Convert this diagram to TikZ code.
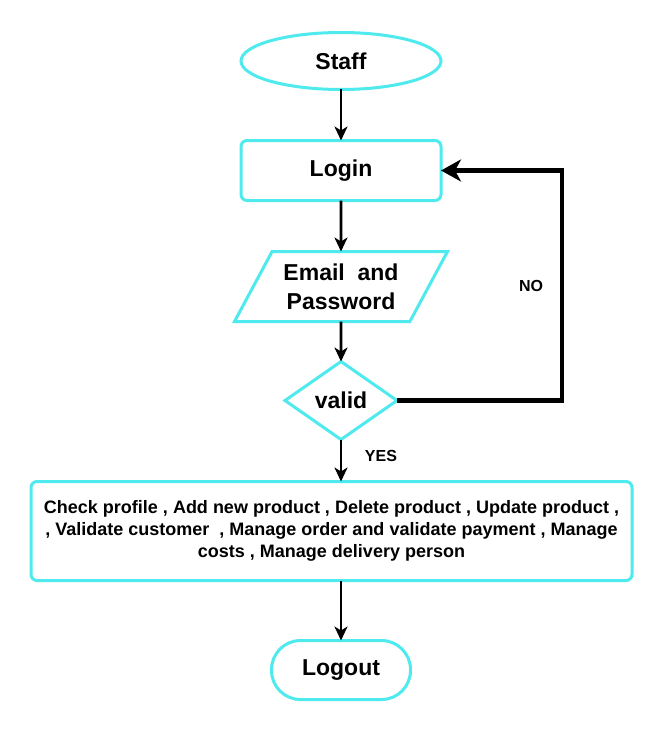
\documentclass[tikz,border=0pt]{standalone}
\usepackage{fontspec}
\setmainfont{Liberation Sans}
\usepackage{tikz}
\usetikzlibrary{arrows.meta,positioning,shapes.geometric}
\definecolor{aqua}{HTML}{4FEAEE}

\begin{document}
\begin{tikzpicture}[every node/.style={font=\bfseries\fontsize{23}{29}\selectfont},stepbase/.style={draw=aqua,line width=3pt,outer sep=0pt,align=center,fill=white},startend/.style={stepbase,ellipse,minimum width=200pt,minimum height=57pt},proc/.style={stepbase,rectangle,rounded corners=6pt,minimum width=200pt,minimum height=60pt},io/.style={stepbase,trapezium,trapezium left angle=53,trapezium right angle=127,trapezium stretches body,minimum width=213pt,minimum height=70pt,inner xsep=0pt,inner ysep=2pt},test/.style={stepbase,diamond,minimum width=112pt,minimum height=78pt,inner sep=0pt},term/.style={stepbase,rectangle,rounded corners=29pt,minimum width=139pt,minimum height=59pt},arr/.style={-{Stealth[length=14pt,width=13pt,inset=4pt]},line width=2.8pt,draw=black},noarr/.style={-{Stealth[length=20pt,width=22pt,inset=6pt]},line width=4.5pt,draw=black},tag/.style={font=\bfseries\fontsize{16}{19}\selectfont}]
\useasboundingbox (0,0) rectangle (663pt,-733pt);
\node[startend] (staff) at (341pt,-61pt) {Staff};
\node[proc,below=51pt of staff] (login) {Login};
\node[io,below=51pt of login] (cred) {Email\ \ and\\Password};
\node[test,below=40pt of cred] (valid) {valid};
\node[proc,minimum width=601pt,minimum height=99pt,below=42pt of valid,xshift=-9.5pt,font=\bfseries\fontsize{18}{22}\selectfont] (tasks) {Check profile , Add new product , Delete product , Update product ,\\ , Validate customer\ \ , Manage order and validate payment , Manage\\costs , Manage delivery person};
\node[term,below=60pt of tasks.south -| valid.south,anchor=north] (logout) {Logout};
\draw[arr] (staff) -- (login);\draw[arr] (login) -- (cred);\draw[arr] (cred) -- (valid);\draw[arr] (valid) -- (valid.south |- tasks.north);\draw[arr] (valid.south |- tasks.south) -- (logout);
\draw[noarr] (valid.east) -- ++(165pt,0) |- (login.east);
\node[tag] (no) at (531pt,-286pt) {NO};
\node[tag] (yes) at (381pt,-456pt) {YES};
\end{tikzpicture}
\end{document}
